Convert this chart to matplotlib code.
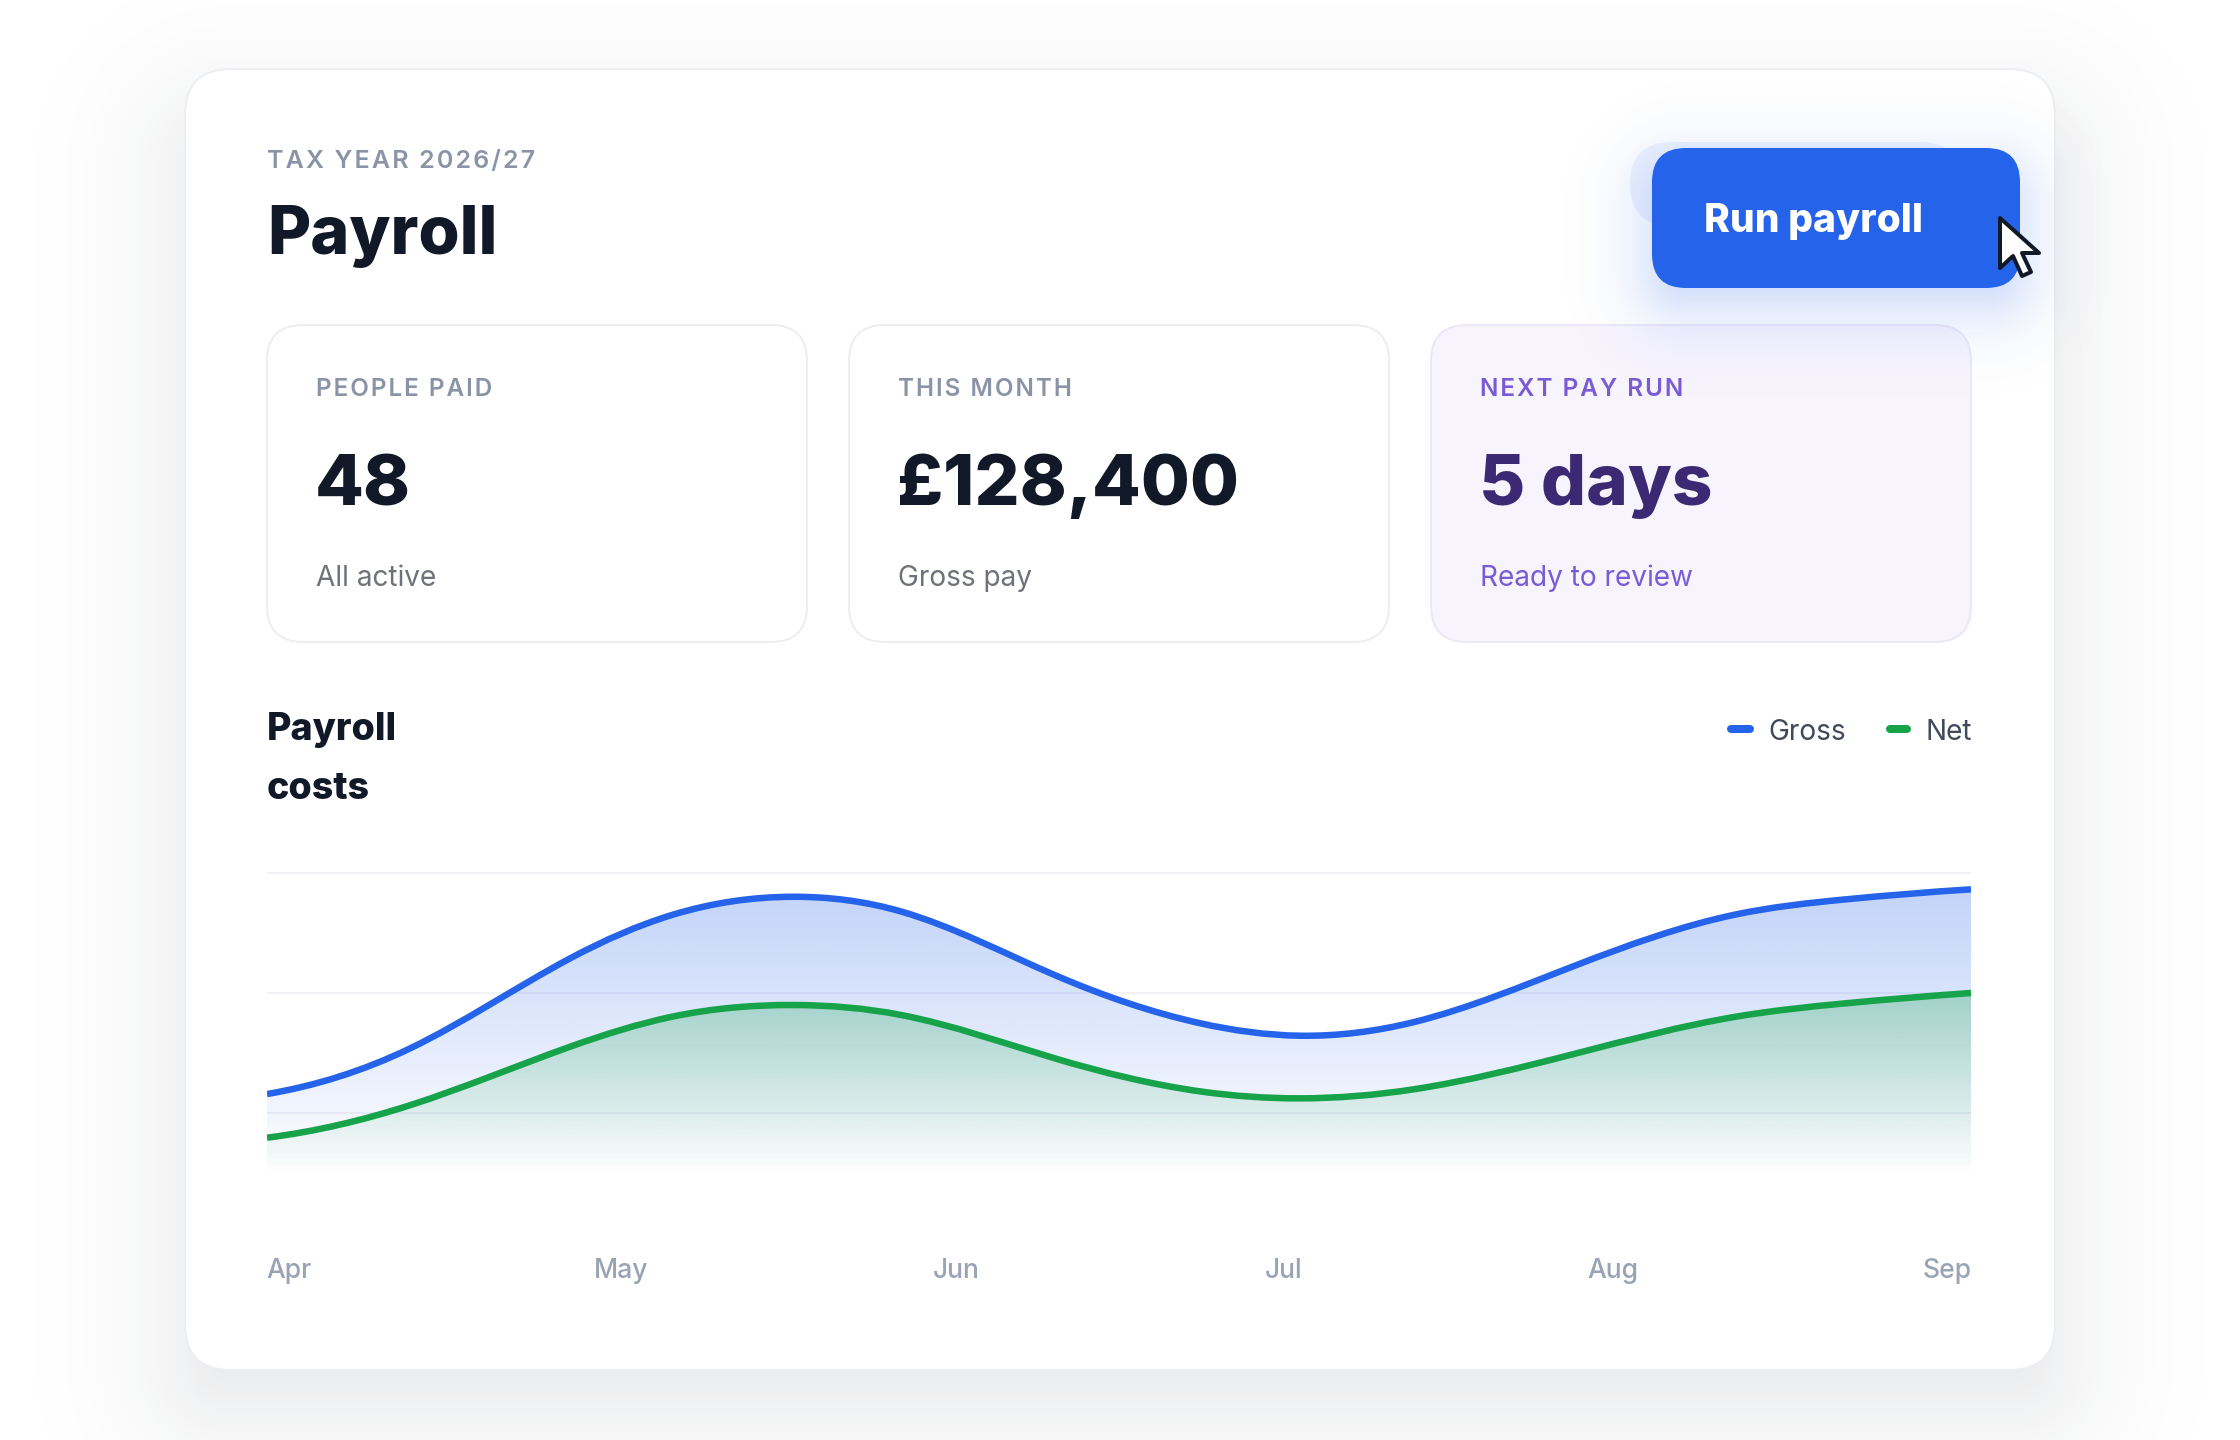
import numpy as np
from matplotlib import pyplot as plt
from matplotlib.colors import to_rgb
from matplotlib.patches import FancyBboxPatch, PathPatch, Polygon
from matplotlib.path import Path

plt.rcParams["font.family"] = ["Inter", "DejaVu Sans"]

# values; x is in months from the left edge of the plot
sample_x = [0, 0.421, 0.889, 1.188, 1.544, 1.862, 2.311, 2.738, 3.03, 3.366,
            3.838, 4.309, 4.624, 5.0]
gross = [57.9, 77.0, 114.4, 132.5, 140.1, 133.9, 107.5, 87.4, 82.2, 87.9,
         111.4, 132.7, 138.9, 143.2]
net = [39.7, 53.3, 77.6, 90.1, 95.0, 90.8, 72.8, 59.0, 56.1, 59.9,
       74.7, 90.1, 95.6, 100.0]
gross_end_slopes = (24, 9)
net_end_slopes = (18, 10)
grid_values = [50, 100, 150]
months = ["Apr", "May", "Jun", "Jul", "Aug", "Sep"]
month_pos = [0.063, 1.039, 2.024, 2.984, 3.948, 4.93]

kpi_labels = ["PEOPLE PAID", "THIS MONTH", "NEXT PAY RUN"]
kpi_values = ["48", "£128,400", "5 days"]
kpi_notes = ["All active", "Gross pay", "Ready to review"]

W, H = 2240, 1440
DPI = 200
PT = 72 / DPI  # points per output pixel

BLUE = "#2563eb"
GREEN = "#16a34a"
INK = "#111827"
GREY = "#8a94a6"

fig = plt.figure(figsize=(W / DPI, H / DPI), dpi=DPI, facecolor="white")
bg = fig.add_axes([0, 0, 1, 1], zorder=0)
bg.set_xlim(0, W)
bg.set_ylim(H, 0)
bg.axis("off")


def spaced(s):
    return "\u200a".join(s)


def label(x, y, s, size, color, weight="normal", ha="left"):
    # size is the em size in output pixels, y is the baseline
    bg.text(x, y, s, fontsize=size * PT, color=color, fontweight=weight,
            ha=ha, va="baseline", zorder=10)


def box(x0, y0, x1, y1, r, fc, ec="none", lw=2, z=2):
    bg.add_patch(FancyBboxPatch((x0, y0), x1 - x0, y1 - y0,
                                boxstyle=f"round,pad=0,rounding_size={r}",
                                fc=fc, ec=ec, lw=lw * PT, zorder=z))


def shadow(x0, y0, x1, y1, r, sigma, color, alpha, z):
    xs = np.arange(0, W, 4) + 2
    ys = np.arange(0, H, 4) + 2
    xx, yy = np.meshgrid(xs, ys)
    cx, cy = (x0 + x1) / 2, (y0 + y1) / 2
    qx = np.abs(xx - cx) - (x1 - x0) / 2 + r
    qy = np.abs(yy - cy) - (y1 - y0) / 2 + r
    d = np.hypot(np.maximum(qx, 0), np.maximum(qy, 0)) + np.minimum(np.maximum(qx, qy), 0) - r
    img = np.zeros(xx.shape + (4,))
    img[..., :3] = to_rgb(color)
    img[..., 3] = alpha * 0.5 * (1 - np.tanh(d / (sigma * 1.1)))
    bg.imshow(img, extent=(0, W, H, 0), aspect="auto", interpolation="bilinear", zorder=z)


# card
shadow(186, 125, 2054, 1405, 40, 80, "#1f2937", 0.125, 0)
box(185, 69, 2055, 1370, 46, "white", "#eceef2", 2, z=1)

label(267, 168, spaced("TAX YEAR 2026/27"), 25, GREY, "semibold")
label(267, 254, "Payroll", 66.5, INK, 800)

# kpi tiles
tile_x = [(267, 807), (849, 1389), (1431, 1971)]
tile_fc = ["white", "white", "#f7f4fe"]
tile_ec = ["#eceef2", "#eceef2", "#ece8f7"]
label_c = [GREY, GREY, "#7a5bd6"]
value_c = [INK, INK, "#3b2a73"]
note_c = ["#6f7278", "#6f7278", "#7a5bd6"]
for i, (x0, x1) in enumerate(tile_x):
    box(x0, 325, x1, 642, 36, tile_fc[i], tile_ec[i], 2, z=2)
    tx = x0 + 49
    label(tx, 396, spaced(kpi_labels[i]), 24.3, label_c[i], "semibold")
    label(tx - 1, 505, kpi_values[i], 71, value_c[i], 800)
    label(tx, 586, kpi_notes[i], 28, note_c[i])

# button with its halo and shadow
box(1630, 142, 1962, 226, 42, "#eef2fe", z=3)
shadow(1652, 170, 2020, 306, 34, 38, BLUE, 0.28, 3.5)
box(1652, 148, 2020, 288, 34, BLUE, z=4)
label(1704, 232, "Run payroll", 39, "white", 800)

# pointer
pointer = [(2000, 218), (2000, 268), (2013, 256), (2022, 276), (2031, 272),
           (2022, 253), (2039, 253)]
bg.add_patch(Polygon(pointer, closed=True, fc="white", ec="#111827",
                     lw=4 * PT, joinstyle="round", zorder=6))

# section header and legend
label(267, 740, "Payroll", 37.5, INK, 800)
label(267, 799, "costs", 37.5, INK, 800)
bg.plot([1731, 1750], [729, 729], color=BLUE, lw=8 * PT, solid_capstyle="round", zorder=2)
label(1768, 740, "Gross", 28, "#414a5c")
bg.plot([1890, 1907], [729, 729], color=GREEN, lw=8 * PT, solid_capstyle="round", zorder=2)
label(1926, 740, "Net", 28, "#414a5c")

bg.set_xlim(0, W)
bg.set_ylim(H, 0)

# chart: v=150 sits at y=873, v=50 at y=1113
px_per_unit = 2.4
y_low, y_high = 24, 152
top_px = 873 - (y_high - 150) * px_per_unit
bot_px = 873 + (150 - y_low) * px_per_unit
left_px, right_px = 267, 1971
ax = fig.add_axes([left_px / W, 1 - bot_px / H, (right_px - left_px) / W, (bot_px - top_px) / H],
                  zorder=1)
ax.patch.set_alpha(0)
for s in ax.spines.values():
    s.set_visible(False)


def smooth_path(xs, ys, end_slopes):
    # clamped cubic spline through the read samples, written as bezier segments
    xs = np.asarray(xs, float)
    ys = np.asarray(ys, float)
    h = np.diff(xs)
    d = np.diff(ys) / h
    n = len(xs)
    A = np.zeros((n, n))
    b = np.zeros(n)
    A[0, 0] = A[-1, -1] = 1
    b[0], b[-1] = end_slopes
    for i in range(1, n - 1):
        A[i, i - 1] = h[i]
        A[i, i] = 2 * (h[i - 1] + h[i])
        A[i, i + 1] = h[i - 1]
        b[i] = 3 * (h[i] * d[i - 1] + h[i - 1] * d[i])
    m = np.linalg.solve(A, b)
    verts = [(xs[0], ys[0])]
    codes = [Path.MOVETO]
    for i in range(n - 1):
        verts += [(xs[i] + h[i] / 3, ys[i] + m[i] * h[i] / 3),
                  (xs[i + 1] - h[i] / 3, ys[i + 1] - m[i + 1] * h[i] / 3),
                  (xs[i + 1], ys[i + 1])]
        codes += [Path.CURVE4] * 3
    return verts, codes


def area(xs, ys, end_slopes, color, z):
    verts, codes = smooth_path(xs, ys, end_slopes)
    outline = Path(verts + [(xs[-1], y_low), (xs[0], y_low), verts[0]],
                   codes + [Path.LINETO, Path.LINETO, Path.CLOSEPOLY])
    clip = PathPatch(outline, fc="none", ec="none", transform=ax.transData)
    ax.add_patch(clip)
    img = np.zeros((256, 1, 4))
    img[..., :3] = to_rgb(color)
    img[..., 3] = np.linspace(0.28, 0, 256)[:, None]
    im = ax.imshow(img, extent=(xs[0], xs[-1], y_low, max(ys)), origin="upper",
                   aspect="auto", interpolation="bilinear", zorder=z)
    im.set_clip_path(clip)
    ax.add_patch(PathPatch(Path(verts, codes), fc="none", ec=color, lw=6.5 * PT,
                           capstyle="butt", zorder=z + 0.5))


area(sample_x, gross, gross_end_slopes, BLUE, 2)
area(sample_x, net, net_end_slopes, GREEN, 3)

ax.set_xlim(0, 5)
ax.set_ylim(y_low, y_high)
ax.set_yticks(grid_values)
ax.set_yticklabels([])
ax.set_xticks(month_pos)
ax.set_xticklabels(months, fontsize=26.5 * PT, color="#9aa3b5", fontweight="medium")
ax.tick_params(length=0, pad=29.6)
ax.grid(axis="y", color="#f1f2f6", lw=2 * PT)
ax.set_axisbelow(True)

fig.savefig("out.png", dpi=DPI)
